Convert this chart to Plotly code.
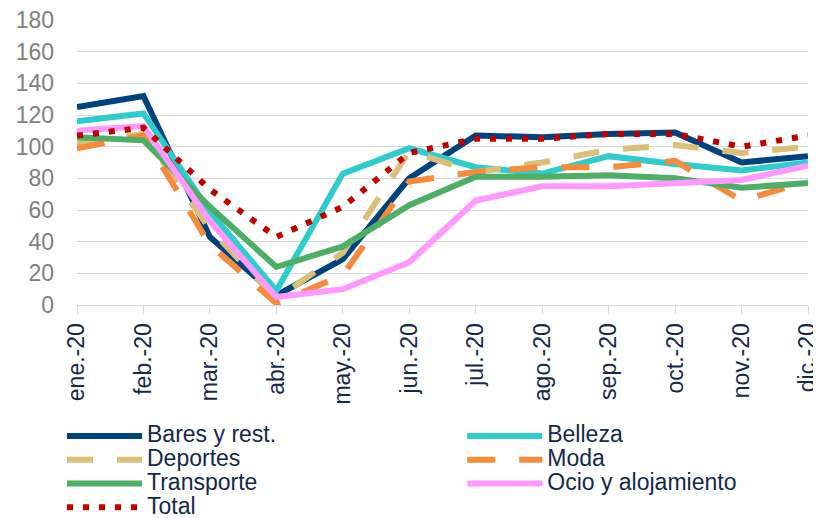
import plotly.graph_objects as go

meses = ["ene.-20", "feb.-20", "mar.-20", "abr.-20", "may.-20", "jun.-20",
         "jul.-20", "ago.-20", "sep.-20", "oct.-20", "nov.-20", "dic.-20"]

bares = [125, 132, 43, 6, 29, 80, 107, 106, 108, 109, 90, 94]
belleza = [116, 121, 59, 9, 83, 99, 87, 83, 94, 89, 85, 90]
deportes = [102, 108, 48, 4, 33, 97, 84, 90, 98, 101, 96, 100]
moda = [99, 107, 38, 1, 19, 78, 84, 87, 87, 91, 66, 78]
transporte = [106, 104, 62, 24, 37, 63, 81, 81, 82, 80, 74, 77]
ocio = [110, 113, 53, 5, 10, 27, 66, 75, 75, 77, 79, 88]
total = [107, 112, 73, 43, 62, 96, 105, 105, 108, 108, 100, 107]

# nombre, valores, color, dash, columna de la leyenda
series = [
    ("Bares y rest.", bares, "#00427E", "solid", "legend"),
    ("Belleza", belleza, "#2ECCCC", "solid", "legend2"),
    ("Deportes", deportes, "#D9BF77", "26px,24px", "legend"),
    ("Moda", moda, "#F68B3B", "28px,24px", "legend2"),
    ("Transporte", transporte, "#4CAF65", "solid", "legend"),
    ("Ocio y alojamiento", ocio, "#FF99FF", "solid", "legend2"),
    ("Total", total, "#C00000", "6px,10px", "legend"),
]

fig = go.Figure()
for nombre, valores, color, dash, leyenda in series:
    fig.add_trace(go.Scatter(
        x=meses, y=valores, mode="lines",
        name=f'<span style="font-size:23px">{nombre}</span>',
        line=dict(color=color, width=6, dash=dash),
        legend=leyenda,
    ))

leyenda_base = dict(
    orientation="v", xanchor="left", y=-0.40, yanchor="top",
    font=dict(size=16, color="#14284B"),
    itemwidth=75, tracegroupgap=0, bgcolor="rgba(0,0,0,0)",
)

# la página tiene 8px de margen en el body: se compensa en los márgenes
fig.update_layout(
    width=821, height=534,
    margin=dict(l=69, r=21, t=12, b=237),
    paper_bgcolor="white", plot_bgcolor="white",
    font=dict(family="Liberation Sans, Arial, sans-serif", color="#14284B"),
    showlegend=True,
    legend=dict(leyenda_base, x=-0.0205),
    legend2=dict(leyenda_base, x=0.527),
)
fig.update_xaxes(
    type="category", range=[0, 11], automargin=False,
    showgrid=False, showline=True, linecolor="#D9D9D9", linewidth=1,
    ticks="outside", ticklen=8, tickcolor="#D9D9D9",
    tickangle=-90, tickfont=dict(size=23, color="#14284B"),
)
fig.update_yaxes(
    range=[0, 180], dtick=20, automargin=False, ticklabeloverflow="allow",
    showgrid=True, gridcolor="#D9D9D9", gridwidth=1,
    zeroline=False, showline=False, ticks="",
    tickfont=dict(size=23, color="#808080"), ticklabelstandoff=22,
)

fig.write_html("out.html")
